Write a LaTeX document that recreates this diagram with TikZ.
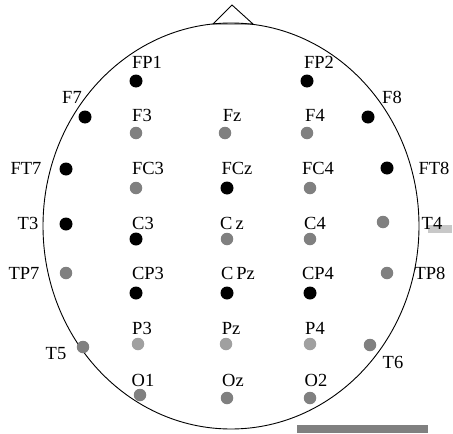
\documentclass[tikz,border=0pt]{standalone}
\usepackage{fontspec}
\setmainfont{Liberation Serif}
\definecolor{dotgray}{RGB}{128,128,128}
\definecolor{dotlight}{RGB}{160,160,160}
\definecolor{stubgray}{RGB}{200,200,200}
\begin{document}
\begin{tikzpicture}[x=1pt,y=-1pt,
  lbl/.style={font=\fontsize{18.5}{18.5}\selectfont, inner sep=0pt, text height=12pt, text depth=0pt, anchor=center},
  bdot/.style={circle, fill=black, inner sep=0pt, minimum size=13pt},
  gdot/.style={circle, fill=dotgray, inner sep=0pt, minimum size=12.5pt},
  ldot/.style={circle, fill=dotlight, inner sep=0pt, minimum size=12.5pt},
  headline/.style={draw=black, line width=0.9pt}]
\useasboundingbox (0,0) rectangle (453,434);
% head
\draw[headline] (231,226) ellipse [x radius=188pt, y radius=203pt];
\draw[headline, line join=miter] (213,24) coordinate (nl) -- (232,5) coordinate (nt) -- (253,24) coordinate (nr) -- cycle;
% bar
\fill[dotgray] (297,425) rectangle (428,433);
\fill[stubgray] (428,225) rectangle (452,233);
% dots
\node[bdot] (dFP1) at (136,81) {};
\node[bdot] (dFP2) at (307,81) {};
\node[bdot] (dF7) at (85,117) {};
\node[bdot] (dF8) at (368,117) {};
\node[gdot] (dF3) at (136,133) {};
\node[gdot] (dFz) at (225,133) {};
\node[gdot] (dF4) at (307,133) {};
\node[bdot] (dFT7) at (66,169) {};
\node[gdot] (dFC3) at (136,188) {};
\node[bdot] (dFCz) at (227,188) {};
\node[gdot] (dFC4) at (310,188) {};
\node[bdot] (dFT8) at (387,168) {};
\node[bdot] (dT3) at (66,224) {};
\node[bdot] (dC3) at (136,239) {};
\node[gdot] (dCz) at (227,239) {};
\node[gdot] (dC4) at (310,239) {};
\node[gdot] (dT4) at (383,222) {};
\node[gdot] (dTP7) at (66,273) {};
\node[bdot] (dCP3) at (136,293) {};
\node[bdot] (dCPz) at (227,293) {};
\node[bdot] (dCP4) at (310,293) {};
\node[gdot] (dTP8) at (387,273) {};
\node[gdot] (dT5) at (83,347) {};
\node[ldot] (dP3) at (138,344) {};
\node[ldot] (dPz) at (226,344) {};
\node[ldot] (dP4) at (310,344) {};
\node[gdot] (dT6) at (370,345) {};
\node[gdot] (dO1) at (140,395) {};
\node[gdot] (dOz) at (227,398) {};
\node[gdot] (dO2) at (310,398) {};
% labels
\node[lbl] (lFP1) at (147,62) {FP1};
\node[lbl] (lFP2) at (319,62) {FP2};
\node[lbl] (lF7) at (72,97) {F7};
\node[lbl] (lF8) at (392,97) {F8};
\node[lbl] (lF3) at (142,115) {F3};
\node[lbl] (lFz) at (232,115) {Fz};
\node[lbl] (lF4) at (315,115) {F4};
\node[lbl] (lFT7) at (26,168) {FT7};
\node[lbl] (lFC3) at (148,168) {FC3};
\node[lbl] (lFCz) at (237,168) {FCz};
\node[lbl] (lFC4) at (318,168) {FC4};
\node[lbl] (lFT8) at (434,168) {FT8};
\node[lbl] (lT3) at (28,223) {T3};
\node[lbl] (lC3) at (143,223) {C3};
\node[lbl] (lCz) at (232,223) {C\,z};
\node[lbl] (lC4) at (315,223) {C4};
\node[lbl] (lT4) at (432,223) {T4};
\node[lbl] (lTP7) at (24,273) {TP7};
\node[lbl] (lCP3) at (148,273) {CP3};
\node[lbl] (lCPz) at (238,273) {C\,Pz};
\node[lbl] (lCP4) at (318,273) {CP4};
\node[lbl] (lTP8) at (430,273) {TP8};
\node[lbl] (lP3) at (142,328) {P3};
\node[lbl] (lPz) at (231,328) {Pz};
\node[lbl] (lP4) at (315,328) {P4};
\node[lbl] (lT5) at (56,353) {T5};
\node[lbl] (lT6) at (393,362) {T6};
\node[lbl] (lO1) at (143,380) {O1};
\node[lbl] (lOz) at (233,380) {Oz};
\node[lbl] (lO2) at (316,380) {O2};
\end{tikzpicture}
\end{document}
